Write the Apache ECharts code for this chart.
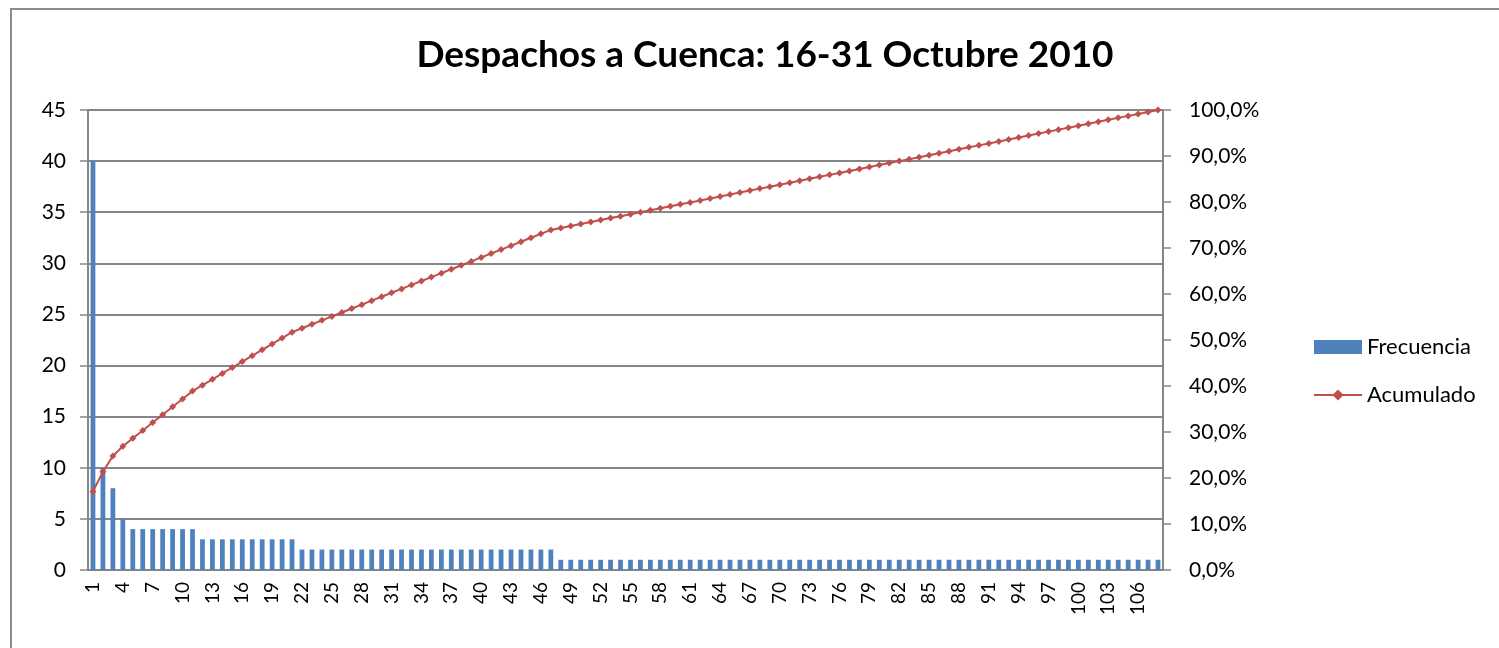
<!DOCTYPE html>
<html>
  <head>
    <meta charset="utf-8">
    <script src="https://cdn.jsdelivr.net/npm/echarts@6/dist/echarts.min.js"></script>
    <style>
      html, body { margin: 0; padding: 0; background: #fff; }
      #frame {
        position: absolute; left: 10px; top: 8px;
        width: 1500px; height: 650px;
        border: 2px solid #8c8c8c; box-sizing: border-box;
      }
      #chart { position: absolute; left: 0; top: 0; width: 1499px; height: 648px; }
    </style>
  </head>
  <body>
    <div id="frame"></div>
    <div id="chart"></div>
    <script>
      // categorias 1..108
      const categorias = [];
      for (let i = 1; i <= 108; i++) categorias.push(String(i));

      // frecuencia por despacho
      const frecuencia = [
        40, 10, 8, 5,
        4, 4, 4, 4, 4, 4, 4,
        3, 3, 3, 3, 3, 3, 3, 3, 3, 3,
        2, 2, 2, 2, 2, 2, 2, 2, 2, 2, 2, 2, 2, 2, 2, 2, 2, 2, 2, 2, 2, 2, 2, 2, 2, 2,
        1, 1, 1, 1, 1, 1, 1, 1, 1, 1, 1, 1, 1, 1, 1, 1, 1, 1, 1, 1,
        1, 1, 1, 1, 1, 1, 1, 1, 1, 1, 1, 1, 1, 1, 1, 1, 1, 1, 1, 1,
        1, 1, 1, 1, 1, 1, 1, 1, 1, 1, 1, 1, 1, 1, 1, 1, 1, 1, 1, 1, 1
      ];

      // acumulado en %
      const acumulado = [
        17.09, 21.37, 24.79, 26.92, 28.63, 30.34, 32.05, 33.76, 35.47, 37.18,
        38.89, 40.17, 41.45, 42.74, 44.02, 45.30, 46.58, 47.86, 49.15, 50.43,
        51.71, 52.56, 53.42, 54.27, 55.13, 55.98, 56.84, 57.69, 58.55, 59.40,
        60.26, 61.11, 61.97, 62.82, 63.68, 64.53, 65.38, 66.24, 67.09, 67.95,
        68.80, 69.66, 70.51, 71.37, 72.22, 73.08, 73.93, 74.36, 74.79, 75.21,
        75.64, 76.07, 76.50, 76.92, 77.35, 77.78, 78.21, 78.63, 79.06, 79.49,
        79.91, 80.34, 80.77, 81.20, 81.62, 82.05, 82.48, 82.91, 83.33, 83.76,
        84.19, 84.62, 85.04, 85.47, 85.90, 86.32, 86.75, 87.18, 87.61, 88.03,
        88.46, 88.89, 89.32, 89.74, 90.17, 90.60, 91.03, 91.45, 91.88, 92.31,
        92.74, 93.16, 93.59, 94.02, 94.44, 94.87, 95.30, 95.73, 96.15, 96.58,
        97.01, 97.44, 97.86, 98.29, 98.72, 99.15, 99.57, 100.00
      ];

      const gris = '#868686';
      const fuente = 'Lato, "Open Sans", sans-serif';

      const chart = echarts.init(document.getElementById('chart'), null, { renderer: 'canvas' });
      chart.setOption({
        animation: false,
        textStyle: { fontFamily: fuente, color: '#000' },
        title: {
          text: 'Despachos a Cuenca: 16-31 Octubre 2010',
          left: 760, top: 32, textAlign: 'center',
          textStyle: { fontSize: 37, fontWeight: 'bold', color: '#000', fontFamily: fuente }
        },
        legend: {
          orient: 'vertical',
          left: 1308, top: 331,
          itemWidth: 48, itemHeight: 14, itemGap: 26,
          textStyle: { fontSize: 22, color: '#000', fontFamily: fuente },
          data: [
            { name: 'Frecuencia', icon: 'rect' },
            { name: 'Acumulado' }
          ]
        },
        grid: { left: 88, right: 336, top: 110, bottom: 78 },
        xAxis: {
          type: 'category',
          data: categorias,
          axisLine: { lineStyle: { color: gris, width: 2 } },
          axisTick: { alignWithLabel: false, interval: 0, length: 8, lineStyle: { color: gris, width: 1.5 } },
          axisLabel: { interval: 2, rotate: 90, fontSize: 19, color: '#000', margin: 12 }
        },
        yAxis: [
          {
            type: 'value', min: 0, max: 45, interval: 5,
            axisLine: { show: true, lineStyle: { color: gris, width: 2 } },
            axisTick: { show: true, length: 8, lineStyle: { color: gris, width: 1.5 } },
            axisLabel: { fontSize: 21, color: '#000', margin: 22 },
            splitLine: { lineStyle: { color: gris, width: 2 } }
          },
          {
            type: 'value', min: 0, max: 100, interval: 10,
            position: 'right',
            axisLine: { show: true, lineStyle: { color: gris, width: 2 } },
            axisTick: { show: true, length: 8, lineStyle: { color: gris, width: 1.5 } },
            axisLabel: {
              fontSize: 21, color: '#000', margin: 26,
              formatter: v => v.toFixed(1).replace('.', ',') + '%'
            },
            splitLine: { show: false }
          }
        ],
        series: [
          {
            name: 'Frecuencia',
            type: 'bar',
            data: frecuencia,
            barWidth: '48%',
            itemStyle: { color: '#4F81BD' }
          },
          {
            name: 'Acumulado',
            type: 'line',
            yAxisIndex: 1,
            data: acumulado,
            symbol: 'diamond',
            symbolSize: 7,
            showAllSymbol: true,
            lineStyle: { color: '#C0504D', width: 2 },
            itemStyle: { color: '#C0504D' }
          }
        ]
      });
    </script>
  </body>
</html>
